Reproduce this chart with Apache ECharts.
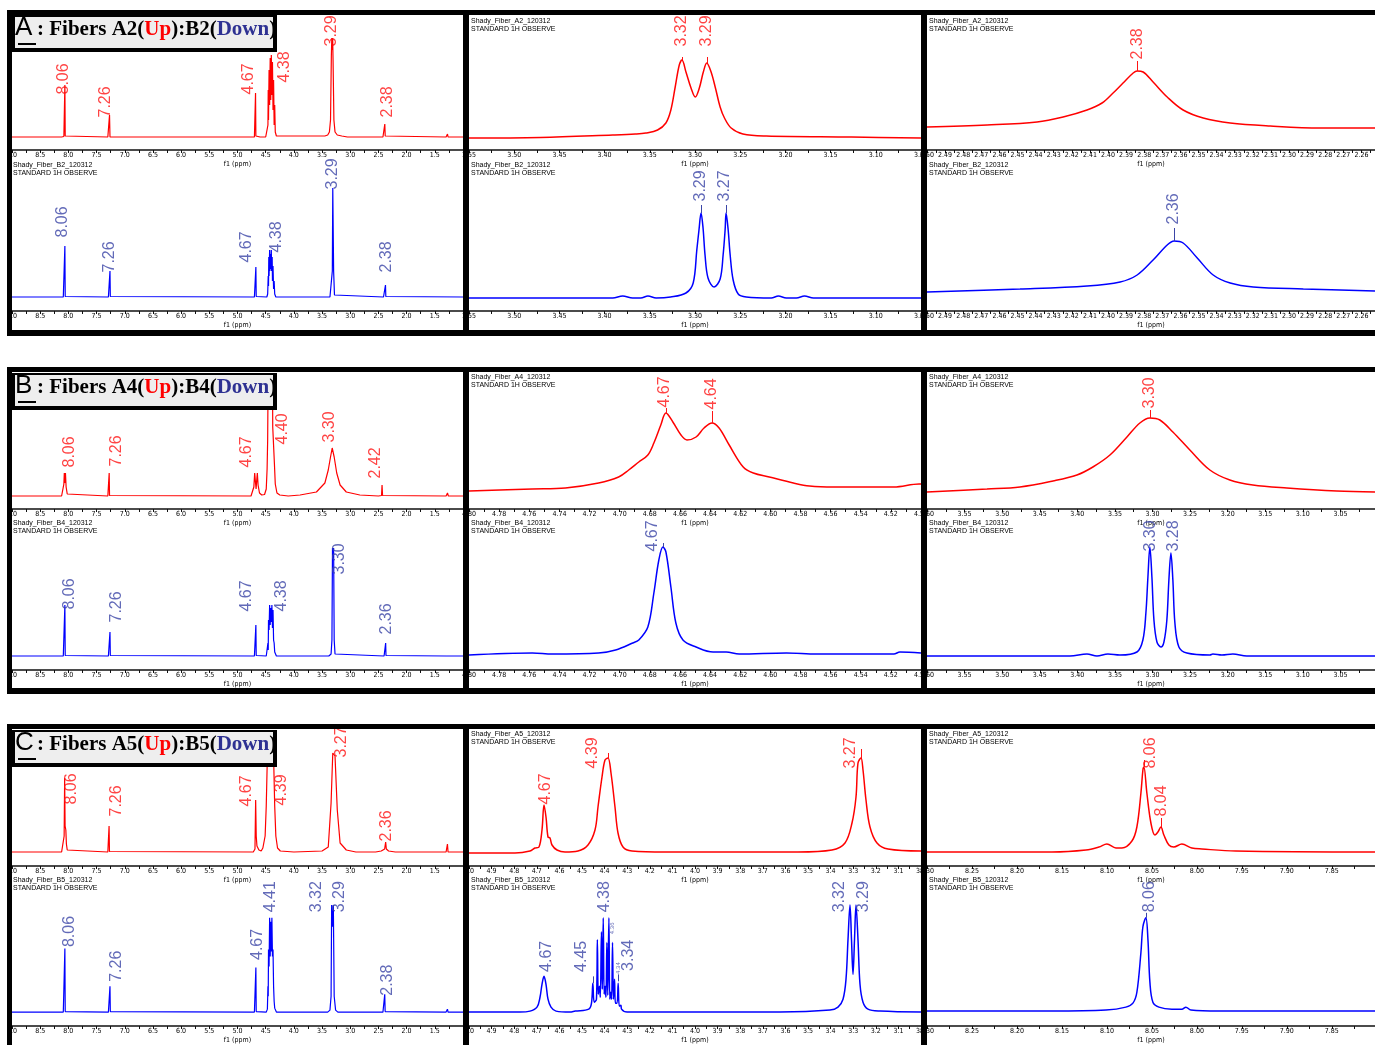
<!DOCTYPE html>
<html>
<head>
<meta charset="utf-8">
<script src="https://cdn.jsdelivr.net/npm/echarts@6/dist/echarts.min.js"></script>
<style>
  html, body { margin: 0; padding: 0; background: #fff; }
  #chart { width: 1375px; height: 1045px; }
</style>
</head>
<body>
<div id="chart"></div>
<script>
// ---- tick labels (ppm) ----
const ticksWide = [9.0, 8.5, 8.0, 7.5, 7.0, 6.5, 6.0, 5.5, 5.0, 4.5, 4.0, 3.5, 3.0, 2.5, 2.0, 1.5];
const ticksAMid = [3.55, 3.50, 3.45, 3.40, 3.35, 3.30, 3.25, 3.20, 3.15, 3.10, 3.05];
const ticksARight = [2.50, 2.49, 2.48, 2.47, 2.46, 2.45, 2.44, 2.43, 2.42, 2.41, 2.40, 2.39, 2.38, 2.37, 2.36, 2.35, 2.34, 2.33, 2.32, 2.31, 2.30, 2.29, 2.28, 2.27, 2.26];
const ticksBMid = [4.80, 4.78, 4.76, 4.74, 4.72, 4.70, 4.68, 4.66, 4.64, 4.62, 4.60, 4.58, 4.56, 4.54, 4.52, 4.50];
const ticksBRight = [3.60, 3.55, 3.50, 3.45, 3.40, 3.35, 3.30, 3.25, 3.20, 3.15, 3.10, 3.05];
const ticksCMid = [5.0, 4.9, 4.8, 4.7, 4.6, 4.5, 4.4, 4.3, 4.2, 4.1, 4.0, 3.9, 3.8, 3.7, 3.6, 3.5, 3.4, 3.3, 3.2, 3.1, 3.0];
const ticksCRight = [8.30, 8.25, 8.20, 8.15, 8.10, 8.05, 8.00, 7.95, 7.90, 7.85];

// ---- spectra: [ppm, intensity] ----
const aWideUp = [[9.0,13],[8.12,13],[8.08,13.5],[8.068,14],[8.062,65],[8.056,14],[8.045,13.5],[7.30,13],[7.278,13],[7.27,35],[7.262,13],[4.70,13],[4.686,14],[4.68,57],[4.674,14],[4.60,13],[4.50,13],[4.47,15],[4.46,25],[4.455,60],[4.45,30],[4.44,80],[4.43,45],[4.42,92],[4.41,50],[4.40,95],[4.39,55],[4.38,88],[4.37,40],[4.36,70],[4.35,25],[4.34,45],[4.33,18],[4.31,14],[4.28,13],[3.45,14],[3.40,15],[3.37,18],[3.35,30],[3.335,95],[3.327,112],[3.32,100],[3.312,112],[3.305,90],[3.29,30],[3.27,18],[3.23,15],[3.15,14],[3.05,13],[2.42,13],[2.394,14],[2.387,26],[2.38,14],[2.35,13],[1.30,13],[1.275,16],[1.265,13],[1.0,13]];
const aWideDown = [[9.0,14],[8.09,14],[8.068,14.5],[8.062,65],[8.056,14.5],[8.03,14],[7.29,14],[7.268,14.5],[7.262,40],[7.256,14.5],[7.23,14],[4.70,14],[4.68,14.5],[4.674,44],[4.668,14.5],[4.64,14],[4.48,14],[4.465,17],[4.455,35],[4.45,25],[4.445,54],[4.44,35],[4.43,61],[4.425,40],[4.415,57],[4.41,42],[4.40,61],[4.395,40],[4.385,54],[4.38,30],[4.37,45],[4.36,22],[4.35,30],[4.34,17],[4.32,14],[3.36,14],[3.33,16],[3.318,40],[3.31,123],[3.302,123],[3.295,40],[3.28,16],[3.25,14],[2.41,14],[2.381,14.5],[2.375,26],[2.369,14.5],[2.34,14],[1.0,14]];
const aMidUp = [[3.55,12],[3.471,12.5],[3.391,15],[3.366,16],[3.3544,17],[3.3414,20],[3.3322,27],[3.3267,40],[3.3219,63],[3.3174,85],[3.3144,90],[3.31,78],[3.3044,62],[3.2997,53],[3.2952,62],[3.2908,78],[3.287,87],[3.2822,78],[3.2774,62],[3.2722,43],[3.2674,32],[3.26,22],[3.247,16],[3.2211,14],[3.127,13],[3.05,12]];
const aMidDown = [[3.55,13],[3.391,13],[3.38,15],[3.369,13],[3.36,13],[3.352,15],[3.343,13],[3.327,14],[3.31,18],[3.302,28],[3.298,61],[3.2956,81],[3.2933,98],[3.2911,83],[3.2889,56],[3.2856,33],[3.2789,24],[3.2722,32],[3.2689,56],[3.2667,81],[3.2656,98],[3.2633,81],[3.2611,56],[3.2578,31],[3.2522,17],[3.2433,14],[3.2156,13],[3.2078,15],[3.199,13],[3.1878,13],[3.1789,15],[3.169,13],[3.05,13]];
const aRightUp = [[2.50,23],[2.4668,25],[2.4392,28],[2.4248,33],[2.4116,40],[2.4033,47],[2.3972,57],[2.3917,67],[2.3861,77],[2.3839,79],[2.3806,78],[2.3751,68],[2.3673,53],[2.3585,40],[2.3474,32],[2.3325,27],[2.3104,24],[2.2828,22],[2.2525,22]];
const aRightDown = [[2.50,19],[2.4486,22],[2.4116,25],[2.3933,29],[2.3839,36],[2.3751,51],[2.3673,66],[2.3635,70],[2.3585,68],[2.3507,53],[2.3419,36],[2.3325,28],[2.3198,24],[2.2921,22],[2.2525,20]];

const bWideUp = [[9.0,13],[8.12,13],[8.095,15],[8.08,25],[8.072,36],[8.062,26],[8.052,36],[8.04,22],[8.02,15],[8.0,13],[7.30,13],[7.282,13.5],[7.276,36],[7.27,13.5],[7.25,13],[4.76,13],[4.73,15],[4.71,22],[4.695,36],[4.683,28],[4.67,20],[4.66,28],[4.648,36],[4.635,24],[4.61,16],[4.57,14],[4.52,14.5],[4.49,20],[4.475,40],[4.465,69],[4.455,145],[4.38,145],[4.375,82],[4.36,80],[4.345,45],[4.33,25],[4.30,16],[4.25,14],[4.10,13],[3.89,14],[3.60,17],[3.45,26],[3.39,39],[3.35,52],[3.32,61],[3.285,52],[3.24,36],[3.18,24],[3.07,17],[2.83,14],[2.50,13],[2.445,13.5],[2.436,24],[2.427,13.5],[2.40,13],[1.30,13],[1.275,16],[1.26,13],[1.0,13]];
const bWideDown = [[9.0,14],[8.09,14],[8.068,14.5],[8.062,65],[8.056,14.5],[8.03,14],[7.29,14],[7.268,14.5],[7.262,38],[7.256,14.5],[7.23,14],[4.70,14],[4.68,14.5],[4.674,45],[4.668,14.5],[4.64,14],[4.49,14],[4.47,16],[4.46,27],[4.455,20],[4.45,50],[4.44,40],[4.43,65],[4.42,45],[4.41,62],[4.40,48],[4.39,65],[4.38,42],[4.37,60],[4.36,30],[4.35,27],[4.34,18],[4.31,14],[3.38,14],[3.34,16],[3.325,30],[3.315,122],[3.305,112],[3.295,122],[3.285,30],[3.27,16],[3.24,14],[2.40,14],[2.378,14.5],[2.372,27],[2.366,14.5],[2.34,14],[1.30,14],[1.275,15],[1.26,14],[1.0,14]];
const bMidUp = [[4.80,18],[4.758,20],[4.736,21],[4.714,26],[4.7007,32],[4.694,39],[4.6873,47],[4.6813,54],[4.6773,66],[4.6727,84],[4.6693,96],[4.6647,87],[4.6593,74],[4.6553,69],[4.6493,72],[4.644,81],[4.6387,86],[4.634,81],[4.6273,64],[4.618,42],[4.6113,36],[4.6007,32],[4.5847,26],[4.574,23],[4.558,22],[4.518,22],[4.5013,25],[4.50,25]];
const bMidDown = [[4.80,15],[4.758,17],[4.7447,16],[4.714,17],[4.7027,20],[4.6913,27],[4.6873,30],[4.6813,43],[4.6773,77],[4.674,110],[4.6713,123],[4.6693,118],[4.666,83],[4.6627,47],[4.658,30],[4.6493,23],[4.638,18],[4.6293,18],[4.6207,16],[4.5893,17],[4.5693,16],[4.518,16],[4.514,18],[4.50,17]];
const bRightUp = [[3.60,17],[3.5202,20],[3.4763,22],[3.4324,28],[3.4005,34],[3.3793,42],[3.3566,54],[3.334,72],[3.3168,86],[3.3035,91],[3.2902,89],[3.2729,77],[3.2503,59],[3.2237,39],[3.1971,29],[3.1665,24],[3.1213,21],[3.0548,18],[3.004,17]];
const bRightDown = [[3.60,14],[3.4098,14],[3.3872,16],[3.3739,14],[3.3593,16],[3.3434,15],[3.3207,18],[3.3128,30],[3.3088,57],[3.3061,93],[3.3035,123],[3.3008,93],[3.2981,50],[3.2941,28],[3.2888,23],[3.2848,28],[3.2809,50],[3.2782,90],[3.2755,117],[3.2729,90],[3.2702,47],[3.2649,23],[3.2543,17],[3.2237,15],[3.2197,16],[3.2077,15],[3.1931,16],[3.1745,14],[3.004,14]];

const cWideUp = [[9.0,14],[8.12,14],[8.09,16],[8.075,30],[8.066,88],[8.058,40],[8.045,36],[8.035,22],[8.02,16],[8.0,14],[7.30,14],[7.285,14.5],[7.278,40],[7.271,14.5],[7.25,14],[4.72,14],[4.69,17],[4.678,66],[4.668,30],[4.655,20],[4.62,16],[4.58,15],[4.55,18],[4.51,30],[4.49,60],[4.47,110],[4.45,150],[4.38,150],[4.36,110],[4.34,60],[4.32,30],[4.29,18],[4.24,15],[4.0,14],[3.50,15],[3.39,19],[3.34,63],[3.31,113],[3.27,110],[3.23,56],[3.18,23],[3.07,16],[2.90,14],[2.55,14],[2.45,15],[2.39,17],[2.372,24],[2.36,17],[2.32,15],[2.20,14],[1.30,14],[1.276,22],[1.265,14],[1.0,14]];
const cWideDown = [[9.0,14],[8.09,14],[8.068,14.5],[8.062,78],[8.056,14.5],[8.03,14],[7.29,14],[7.268,14.5],[7.262,40],[7.256,14.5],[7.23,14],[4.70,14],[4.68,14.5],[4.674,59],[4.668,14.5],[4.64,14],[4.49,14],[4.47,17],[4.46,40],[4.455,30],[4.45,77],[4.44,60],[4.43,109],[4.42,70],[4.41,105],[4.40,75],[4.39,109],[4.38,70],[4.37,77],[4.36,40],[4.35,25],[4.34,18],[4.31,14],[3.40,14],[3.36,16],[3.34,30],[3.33,122],[3.315,100],[3.30,122],[3.285,30],[3.26,16],[3.22,14],[2.42,14],[2.395,14.5],[2.388,32],[2.381,14.5],[2.36,14],[1.30,14],[1.276,17],[1.265,14],[1.0,14]];
const cMidUp = [[5.0,13],[4.7965,13],[4.7301,15],[4.708,18],[4.6903,19],[4.677,36],[4.6681,61],[4.6593,49],[4.6504,29],[4.6416,28],[4.6327,21],[4.6106,16],[4.5752,14],[4.5177,15],[4.4735,21],[4.4425,36],[4.4292,59],[4.4115,89],[4.3982,106],[4.385,108],[4.3717,93],[4.354,59],[4.3407,33],[4.3186,19],[4.2788,15],[4.1327,14],[3.9115,14],[3.5442,14],[3.3938,16],[3.3363,23],[3.3053,43],[3.2876,69],[3.2788,103],[3.2655,108],[3.2566,96],[3.2434,66],[3.2257,39],[3.1947,23],[3.146,17],[3.0,15]];
const cMidDown = [[5.0,14],[4.7743,14],[4.7301,15],[4.6991,19],[4.6858,29],[4.677,42],[4.6681,50],[4.6593,42],[4.6504,27],[4.6372,19],[4.615,15],[4.5531,14],[4.53,15],[4.47,17],[4.458,23],[4.452,43],[4.446,24],[4.436,27],[4.432,87],[4.428,32],[4.423,40],[4.419,29],[4.414,95],[4.41,37],[4.406,109],[4.402,32],[4.398,40],[4.394,29],[4.39,84],[4.386,31],[4.381,109],[4.377,27],[4.373,34],[4.369,27],[4.365,84],[4.361,27],[4.356,47],[4.352,23],[4.345,23],[4.34,43],[4.335,20],[4.328,21],[4.325,17],[4.30,14],[3.6239,14],[3.4027,16],[3.3673,19],[3.3451,27],[3.3319,47],[3.323,87],[3.3142,122],[3.3075,87],[3.3009,52],[3.2942,87],[3.2876,122],[3.2788,87],[3.2699,42],[3.2566,24],[3.2345,17],[3.1814,15],[3.0,14]];
const cRightUp = [[8.30,14],[8.1611,14],[8.1233,16],[8.1089,19],[8.10,22],[8.09,18],[8.0833,18],[8.0722,25],[8.0667,39],[8.0622,73],[8.06,96],[8.0589,99],[8.0556,73],[8.0511,43],[8.0467,31],[8.0433,34],[8.04,39],[8.0367,31],[8.0311,21],[8.0256,19],[8.0167,22],[8.0056,18],[7.9944,17],[7.9567,15],[7.802,14]];
const cRightDown = [[8.30,15],[8.1611,15],[8.1011,16],[8.0789,19],[8.0711,23],[8.0667,34],[8.0622,74],[8.06,100],[8.0567,109],[8.0544,87],[8.0522,44],[8.0489,24],[8.0422,19],[8.0278,17],[8.0167,17],[8.0122,19],[8.0067,16],[7.9756,15],[7.802,15]];

// ---- peak labels: [text, ppm, intensity at text foot] ----
const aWideUpLabels = [['8.06',8.078,55],['7.26',7.333,32],['4.67',4.798,55],['4.38',4.16,67],['3.29',3.326,103],['2.38',2.333,32]];
const aWideDownLabels = [['8.06',8.096,73],['7.26',7.262,38],['4.67',4.833,48],['4.38',4.301,58],['3.29',3.309,121],['2.38',2.351,38]];
const aMidUpLabels = [['3.32',3.3144,103],['3.29',3.287,103]];
const aMidDownLabels = [['3.29',3.2933,109],['3.27',3.2678,109]];
const aRightUpLabels = [['2.38',2.3839,90]];
const aRightDownLabels = [['2.36',2.3635,86]];
const bWideUpLabels = [['8.06',7.972,41],['7.26',7.138,42],['4.67',4.833,41],['4.40',4.195,64],['3.30',3.362,66],['2.42',2.546,30]];
const bWideDownLabels = [['8.06',7.972,60],['7.26',7.138,47],['4.67',4.833,58],['4.38',4.213,58],['3.30',3.184,95],['2.36',2.351,35]];
const bMidUpLabels = [['4.67',4.67,101],['4.64',4.6387,99]];
const bMidDownLabels = [['4.67',4.678,118]];
const bRightUpLabels = [['3.30',3.3035,100]];
const bRightDownLabels = [['3.30',3.3021,118],['3.28',3.2715,118]];
const cWideUpLabels = [['8.06',7.936,61],['7.26',7.138,49],['4.67',4.833,59],['4.39',4.213,60],['3.27',3.149,108],['2.36',2.351,24]];
const cWideDownLabels = [['8.06',7.972,79],['7.26',7.138,44],['4.67',4.638,66],['4.41',4.408,114],['3.32',3.592,114],['3.29',3.184,114],['2.38',2.333,30]];
const cMidUpLabels = [['4.67',4.659,61],['4.39',4.4513,97],['3.27',3.3097,97]];
const cMidDownLabels = [['4.67',4.655,54],['4.45',4.50,54],['4.38',4.398,114],['3.34',4.292,55],['3.32',3.358,114],['3.29',3.252,114]];
const cMidDownSmall = [['4.36',4.367,92],['4.34',4.34,52]];
const cRightUpLabels = [['8.06',8.0511,97],['8.04',8.0389,49]];
const cRightDownLabels = [['8.06',8.0522,114]];

// ---- label leader ticks: [ppm, from, to] ----
const aMidUpTicks = [[3.3144,90,93],[3.287,87,93]];
const aMidDownTicks = [[3.2933,98,106],[3.2656,98,106]];
const aRightUpTicks = [[2.3839,79,89]];
const aRightDownTicks = [[2.3635,70,83]];
const bMidUpTicks = [[4.6693,96,101],[4.6387,86,98]];
const bMidDownTicks = [[4.6713,123,127]];
const bRightUpTicks = [[3.3035,91,99]];
const cMidUpTicks = [[4.385,107,113],[3.2655,108,117]];
const cMidDownTicks = [[4.45,43,50],[4.34,45,52]];
const cRightUpTicks = [[8.0589,99,106],[8.04,39,48]];
const cRightDownTicks = [[8.0567,109,114]];

const sampleNames = [['A2', 'B2'], ['A4', 'B4'], ['A5', 'B5']];

// ---- layout ----
const RED = '#ff0000', BLUE = '#0000ff', RED_TXT = '#ff1414', BLUE_TXT = '#3b45a6';
const rowAxisY = [[150, 311], [509, 670], [866, 1027]];
const colBox = [{ left: 12, width: 451 }, { left: 469, width: 452 }, { left: 927, width: 448 }];
const PLOT_H = 135;
const SMALL_FONT = 'DejaVu Sans Condensed, Liberation Sans, sans-serif';

const axes = [
  [{ range: [1.0, 9.0], ticks: ticksWide, dec: 1 }, { range: [3.05, 3.55], ticks: ticksAMid, dec: 2 }, { range: [2.2525, 2.50], ticks: ticksARight, dec: 2 }],
  [{ range: [1.0, 9.0], ticks: ticksWide, dec: 1 }, { range: [4.50, 4.80], ticks: ticksBMid, dec: 2 }, { range: [3.004, 3.60], ticks: ticksBRight, dec: 2 }],
  [{ range: [1.0, 9.0], ticks: ticksWide, dec: 1 }, { range: [3.0, 5.0], ticks: ticksCMid, dec: 1 }, { range: [7.802, 8.30], ticks: ticksCRight, dec: 2 }]
];

const panels = [
  [0,0,0,aWideUp,aWideUpLabels,[]], [0,0,1,aWideDown,aWideDownLabels,[]],
  [0,1,0,aMidUp,aMidUpLabels,aMidUpTicks], [0,1,1,aMidDown,aMidDownLabels,aMidDownTicks],
  [0,2,0,aRightUp,aRightUpLabels,aRightUpTicks], [0,2,1,aRightDown,aRightDownLabels,aRightDownTicks],
  [1,0,0,bWideUp,bWideUpLabels,[]], [1,0,1,bWideDown,bWideDownLabels,[]],
  [1,1,0,bMidUp,bMidUpLabels,bMidUpTicks], [1,1,1,bMidDown,bMidDownLabels,bMidDownTicks],
  [1,2,0,bRightUp,bRightUpLabels,bRightUpTicks], [1,2,1,bRightDown,bRightDownLabels,[]],
  [2,0,0,cWideUp,cWideUpLabels,[]], [2,0,1,cWideDown,cWideDownLabels,[]],
  [2,1,0,cMidUp,cMidUpLabels,cMidUpTicks], [2,1,1,cMidDown,cMidDownLabels,cMidDownTicks],
  [2,2,0,cRightUp,cRightUpLabels,cRightUpTicks], [2,2,1,cRightDown,cRightDownLabels,cRightDownTicks]
];

function withMinor(ticks, lo, hi) {
  const out = ticks.slice();
  const step = Math.abs(ticks[0] - ticks[1]);
  ticks.forEach(t => [t - step / 2, t + step / 2].forEach(m => {
    if (m > lo && m < hi && !out.some(v => Math.abs(v - m) < 1e-9)) out.push(m);
  }));
  return out;
}

const grids = [], xAxes = [], yAxes = [], series = [];
panels.forEach(([r, c, p, data, labels, ticks], i) => {
  const ax = axes[r][c];
  const lineColor = p === 0 ? RED : BLUE;
  const txtColor = p === 0 ? RED_TXT : BLUE_TXT;
  grids.push({ left: colBox[c].left, width: colBox[c].width, top: rowAxisY[r][p] - PLOT_H, height: PLOT_H });
  xAxes.push({
    gridIndex: i, type: 'value', inverse: true, min: ax.range[0], max: ax.range[1],
    axisLine: { show: true, onZero: false, lineStyle: { color: '#111', width: 1.5 } },
    axisTick: { show: true, length: 3, customValues: withMinor(ax.ticks, ax.range[0], ax.range[1]), lineStyle: { color: '#111' } },
    axisLabel: { show: true, customValues: ax.ticks, formatter: v => v.toFixed(ax.dec), fontSize: 7, margin: 2, color: '#000', fontFamily: SMALL_FONT },
    splitLine: { show: false },
    name: 'f1 (ppm)', nameLocation: 'middle', nameGap: 11,
    nameTextStyle: { fontSize: 7, color: '#000', fontFamily: SMALL_FONT }
  });
  yAxes.push({ gridIndex: i, type: 'value', min: 0, max: PLOT_H, show: false });
  series.push({
    type: 'line', xAxisIndex: i, yAxisIndex: i, data: data,
    showSymbol: false, symbol: 'none', silent: true, clip: true,
    smooth: c === 0 ? false : 0.35,
    lineStyle: { color: lineColor, width: c === 0 ? 1.2 : 1.5 },
    itemStyle: { color: lineColor },
    markLine: ticks.length ? {
      silent: true, symbol: ['none', 'none'], label: { show: false },
      lineStyle: { color: txtColor, width: 1, type: 'solid' },
      data: ticks.map(t => [{ coord: [t[0], t[1]] }, { coord: [t[0], t[2]] }])
    } : undefined
  });
  const labelSets = [[labels, 16]];
  if (data === cMidDown) labelSets.push([cMidDownSmall, 6]);
  labelSets.forEach(([set, size]) => series.push({
    type: 'scatter', xAxisIndex: i, yAxisIndex: i, silent: true, clip: false, z: 5,
    symbol: 'rect', symbolSize: 1, itemStyle: { color: 'rgba(0,0,0,0)' },
    data: set.map(l => ({ value: [l[1], l[2]], name: l[0] })),
    label: {
      show: true, formatter: q => q.name, position: 'top', distance: 0,
      rotate: 90, align: 'left', verticalAlign: 'middle',
      fontSize: size, fontFamily: 'Liberation Sans, Arial, sans-serif', color: txtColor
    }
  }));
});

// ---- decorations: frames, title boxes, sample names ----
const rowFrames = [[10, 330], [367, 688], [724, null]];
const graphics = [];
rowFrames.forEach(([top, bottom]) => {
  const h = (bottom === null ? 1045 : bottom + 5) - top;
  graphics.push({ type: 'rect', z: 100, shape: { x: 7, y: top, width: 1368, height: 5 }, style: { fill: '#000' } });
  if (bottom !== null) graphics.push({ type: 'rect', z: 100, shape: { x: 7, y: bottom, width: 1368, height: 6 }, style: { fill: '#000' } });
  [[7, 5], [463, 6], [921, 6]].forEach(([x, w]) =>
    graphics.push({ type: 'rect', z: 100, shape: { x: x, y: top, width: w, height: h }, style: { fill: '#000' } }));
});
const titleTops = [15, 373, 730];
const titles = [];
titleTops.forEach((ty, r) => {
  graphics.push({ type: 'rect', z: 50, shape: { x: 12, y: ty, width: 265, height: 37 }, style: { fill: '#000' } });
  graphics.push({ type: 'rect', z: 51, shape: { x: 15, y: ty + 2, width: 258, height: 31 }, style: { fill: '#eeeeee' } });
  graphics.push({ type: 'rect', z: 52, shape: { x: 18, y: ty + 28, width: 18, height: 2 }, style: { fill: '#000' } });
  const [up, down] = sampleNames[r];
  titles.push({ text: 'ABC'[r], left: 15, top: ty, padding: 0, z: 60,
    textStyle: { fontFamily: 'Liberation Sans, Arial, sans-serif', fontWeight: 'normal', fontSize: 26, lineHeight: 26, color: '#000' } });
  const base = { fontFamily: 'Liberation Serif, Times New Roman, serif', fontWeight: 'bold', fontSize: 21, lineHeight: 21 };
  titles.push({ text: `{b|: Fibers ${up}(}{r|Up}{b|):${down}(}{u|Down}{b|)}`, left: 37, top: ty + 4, padding: 0, z: 60,
    textStyle: { rich: { b: { ...base, color: '#000' }, r: { ...base, color: '#ff0000' }, u: { ...base, color: '#2e3192' } } } });
});
const nameTops = [[17, 161], [373.5, 519], [730, 876.5]];
const nameLefts = [13, 471, 929];
nameTops.forEach((tops, r) => tops.forEach((ty, p) => nameLefts.forEach((x, c) => {
  if (c === 0 && p === 0) return;
  graphics.push({ type: 'text', z: 20, x: x, y: ty,
    style: { text: `Shady_Fiber_${sampleNames[r][p]}_120312\nSTANDARD 1H OBSERVE`, fill: '#000',
      fontSize: 7, lineHeight: 8, fontFamily: 'Liberation Sans, sans-serif', verticalAlign: 'top' } });
})));

const chart = echarts.init(document.getElementById('chart'), null, { renderer: 'canvas' });
chart.setOption({
  animation: false,
  backgroundColor: '#fff',
  title: titles,
  grid: grids,
  xAxis: xAxes,
  yAxis: yAxes,
  series: series,
  graphic: { elements: graphics }
});
</script>
</body>
</html>
